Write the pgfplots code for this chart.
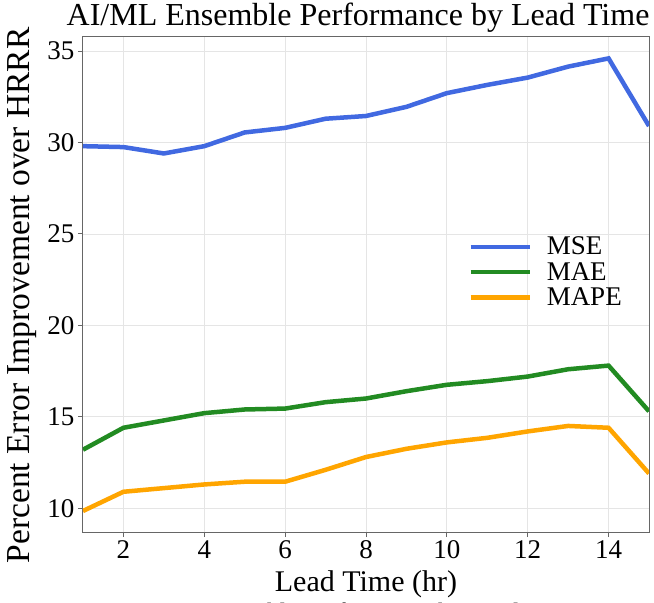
\documentclass[border=0pt]{standalone}
\usepackage{pgfplots}
\pgfplotsset{compat=1.18}
\usepackage{fontspec}
\setmainfont{Liberation Serif}

\definecolor{mseblue}{RGB}{65,105,225}
\definecolor{maegreen}{RGB}{34,139,34}
\definecolor{mapeorange}{RGB}{255,165,0}

\pgfplotstableread{
lead mse mae mape
1  29.80 13.20 9.85
2  29.75 14.40 10.90
3  29.40 14.80 11.10
4  29.80 15.20 11.30
5  30.55 15.40 11.45
6  30.80 15.45 11.45
7  31.30 15.80 12.10
8  31.45 16.00 12.80
9  31.95 16.40 13.25
10 32.70 16.75 13.60
11 33.15 16.95 13.85
12 33.55 17.20 14.20
13 34.15 17.60 14.50
14 34.60 17.80 14.40
15 30.90 15.30 11.90
}\perf

\begin{document}
\begin{tikzpicture}
\begin{axis}[
  name=main,
  scale only axis,
  width=566pt, height=495pt,
  xmin=1, xmax=15, ymin=8.7, ymax=35.77,
  xtick={2,4,...,14}, ytick={10,15,...,35},
  grid=major,
  major grid style={draw=black!10, line width=0.8pt},
  axis line style={draw=black!60, line width=1pt},
  tick style={draw=black!60, line width=1pt},
  tick align=outside, major tick length=5pt,
  xtick pos=bottom, ytick pos=left,
  /pgf/number format/assume math mode=true,
  ticklabel style={font=\fontsize{27}{30}\selectfont},
  title={AI/ML Ensemble Performance by Lead Time},
  title style={font=\fontsize{32}{36}\selectfont,
    at={(axis description cs:0.486,1)}, anchor=base, yshift=5pt},
  xlabel={Lead Time (hr)},
  ylabel={Percent Error Improvement over HRRR},
  xlabel style={font=\fontsize{30}{34}\selectfont,
    at={(axis description cs:0.5,-0.121)}, anchor=base},
  ylabel style={font=\fontsize{33.5}{36}\selectfont,
    at={(axis description cs:-0.108,0.478)}, anchor=center},
  legend style={at={(0.675,0.525)}, anchor=west, draw=none, fill=none,
    font=\fontsize{27}{30}\selectfont, row sep=2pt},
  legend cell align=left,
  legend image code/.code={\draw[#1] (0pt,0pt) -- (59pt,0pt); \path (72pt,0pt);},
  every axis plot/.append style={line width=4.5pt, no markers},
]
\addplot[mseblue] table[x=lead, y=mse] {\perf};
\addlegendentry{MSE}
\addplot[maegreen] table[x=lead, y=mae] {\perf};
\addlegendentry{MAE}
\addplot[mapeorange] table[x=lead, y=mape] {\perf};
\addlegendentry{MAPE}
\end{axis}
% caption of the next figure, cut off by the page edge as in the screenshot
\node[anchor=base, font=\fontsize{25}{28}\selectfont] at (267pt,-88pt)
  {AI/ML Ensemble Performance by Lead Time};
\pgfresetboundingbox
\path (-83pt,-71pt) rectangle (571pt,532pt);
\end{tikzpicture}
\end{document}
